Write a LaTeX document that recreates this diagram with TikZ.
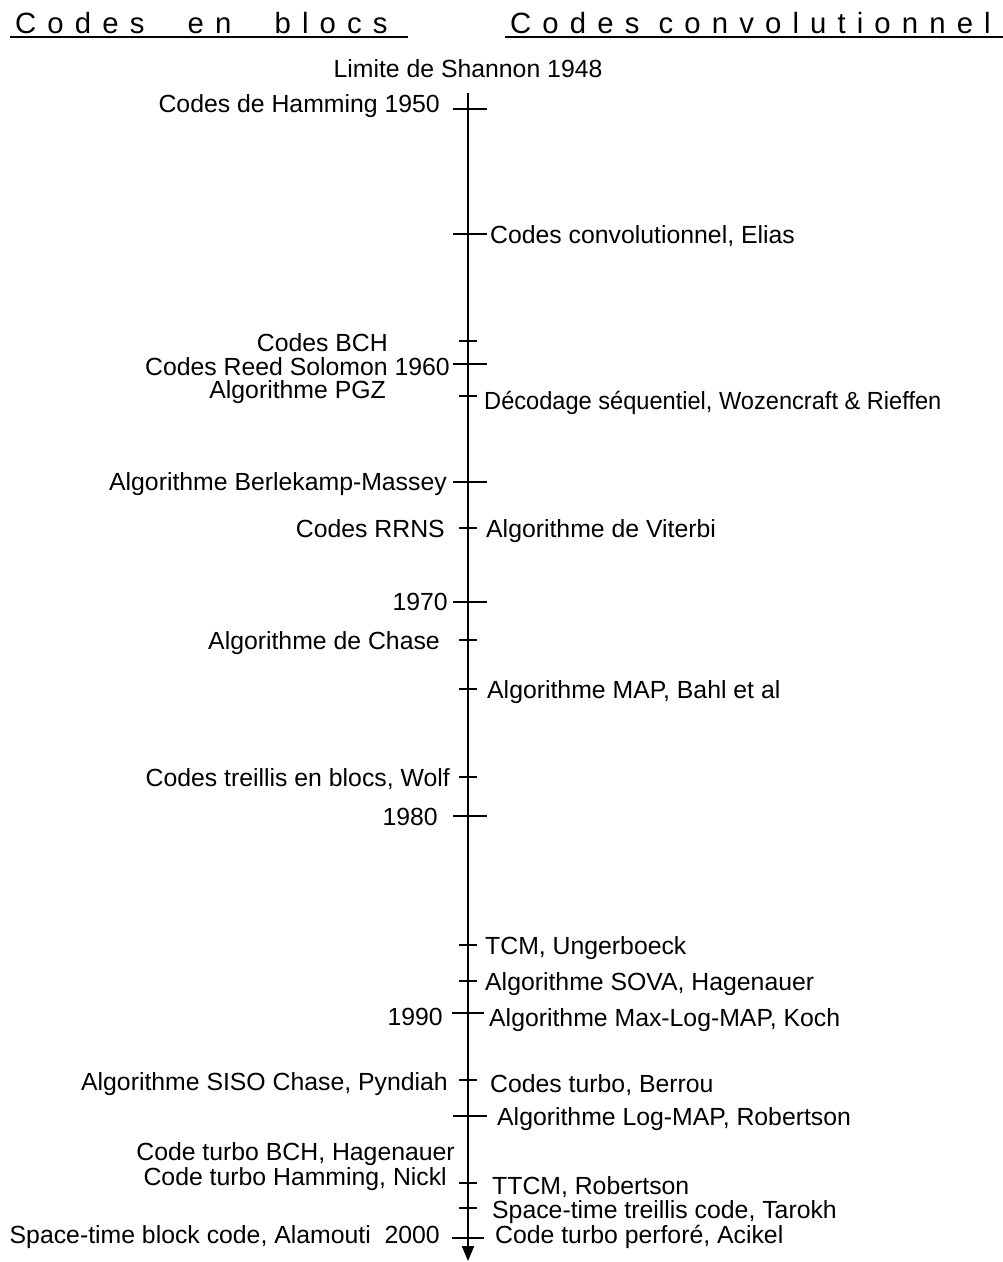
\documentclass[tikz,border=0pt]{standalone}
\usepackage{fontspec}
\setmainfont{Liberation Sans}
\usetikzlibrary{arrows.meta,calc}
\begin{document}
\begin{tikzpicture}[x=1pt,y=-1pt,
  lbl/.style={inner sep=0pt, font=\fontsize{24.8}{30}\selectfont},
  lft/.style={lbl, anchor=base east},
  rgt/.style={lbl, anchor=base west},
  hdr/.style={inner sep=0pt, anchor=base west, font=\fontsize{29.3}{35}\selectfont\addfontfeature{LetterSpace=38}},
  ul/.style={line width=2pt},
  axisline/.style={line width=2pt, -{Triangle[length=15pt,width=12pt]}},
  tickline/.style={line width=1.8pt}]
\useasboundingbox (0,0) rectangle (1003,1262);

% headers
\node[hdr] (hl) at (15,33) {Codes\hspace{24pt} en\hspace{24pt} blocs};
\node[hdr] (hr) at (510,33) {Codes convolutionnel};
\draw[ul] ($(hl.base west)+(-5,4)$) -- ($(hl.base west)+(393,4)$);
\draw[ul] ($(hr.base west)+(-5,4)$) -- ($(hr.base west)+(493,4)$);

\node[lbl, anchor=base] (shannon) at (468,77) {Limite de Shannon 1948};

% axis
\coordinate (top) at (468,93);
\coordinate (bot) at (468,1261);
\draw[axisline] (top) -- (bot);

% ticks: long and short
\foreach \y in {109,234,364,482,602,816,1116}
  \draw[tickline] (453,\y) -- (487,\y);
\foreach \y in {1013,1238}
  \draw[tickline] (452,\y) -- (484,\y);
\foreach \y in {341,396,528,640,689,777,945,981,1080,1183,1208}
  \draw[tickline] (459,\y) -- (477,\y);

% left labels
\node[lft] (l1) at (440,112) {Codes de Hamming 1950};
\node[lft] (l2) at (388,351) {Codes BCH};
\node[lft] (l3) at (450,375) {Codes Reed Solomon 1960};
\node[lft] (l4) at (386,398) {Algorithme PGZ};
\node[lft] (l5) at (447,490) {Algorithme Berlekamp-Massey};
\node[lft] (l6) at (445,537) {Codes RRNS};
\node[lft] (l7) at (448,610) {1970};
\node[lft] (l8) at (440,649) {Algorithme de Chase};
\node[lft] (l9) at (450,786) {Codes treillis en blocs, Wolf};
\node[lft] (l10) at (438,825) {1980};
\node[lft] (l11) at (443,1025) {1990};
\node[lft] (l12) at (448,1090) {Algorithme SISO Chase, Pyndiah};
\node[lft] (l13) at (455,1160) {Code turbo BCH, Hagenauer};
\node[lft] (l14) at (447,1185) {Code turbo Hamming, Nickl};
\node[lft] (l15) at (440,1243) {Space-time block code, Alamouti\ \ 2000};

% right labels
\node[rgt] (r1) at (490,243) {Codes convolutionnel, Elias};
\node[rgt] (r2) at (484,409) {\scalebox{0.952}[1]{Décodage séquentiel, Wozencraft \& Rieffen}};
\node[rgt] (r3) at (486,537) {Algorithme de Viterbi};
\node[rgt] (r4) at (487,698) {Algorithme MAP, Bahl et al};
\node[rgt] (r5) at (485,954) {TCM, Ungerboeck};
\node[rgt] (r6) at (485,990) {Algorithme SOVA, Hagenauer};
\node[rgt] (r7) at (489,1026) {Algorithme Max-Log-MAP, Koch};
\node[rgt] (r8) at (490,1092) {Codes turbo, Berrou};
\node[rgt] (r9) at (497,1125) {Algorithme Log-MAP, Robertson};
\node[rgt] (r10) at (492,1194) {TTCM, Robertson};
\node[rgt] (r11) at (492,1218) {Space-time treillis code, Tarokh};
\node[rgt] (r12) at (495,1243) {Code turbo perforé, Acikel};
\end{tikzpicture}
\end{document}
